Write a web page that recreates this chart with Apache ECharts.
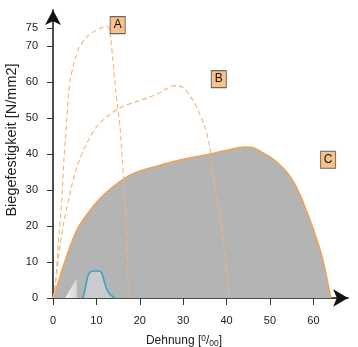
<!DOCTYPE html>
<html>
<head>
<meta charset="utf-8">
<script src="https://cdn.jsdelivr.net/npm/echarts@6/dist/echarts.min.js"></script>
<style>html,body{margin:0;padding:0;background:#fff}#c{width:358px;height:347px}</style>
</head>
<body>
<div id="c"></div>
<script>
// ---- data ----
var xTicks = [0, 10, 20, 30, 40, 50, 60];
var yTicks = [0, 10, 20, 30, 40, 50, 60, 70, 75];
var curveA = [[0,0],[0.45,3],[0.85,8.6],[1.4,18],[2.0,27],[2.6,40],[3.2,50],[3.9,60],[5,66],[6.2,70],[8,72.8],[9.7,74.2],[11,75],[12.5,75.5],[13.1,74],[13.8,66],[14.5,57],[15.4,48],[16,38],[16.6,27],[17.1,14],[17.4,0]];
var curveB = [[0,0],[0.5,3],[1.2,10.5],[2.3,19.7],[3.9,29],[5.5,36.4],[7.8,43],[10,47.5],[12.4,50.3],[15.4,52.8],[19,54.5],[22.3,55.8],[25,57.3],[26.9,58.6],[28.5,59],[30,58.4],[32.2,55],[35,47.5],[36.1,42],[36.8,34],[37.9,26],[38.9,19],[40.7,0]];
var curveC = [[0,0],[1,3.5],[2,7.5],[3,11],[4,14.5],[5,17.5],[6,20],[8,23.5],[10,26.5],[12,29],[15,32],[17.5,34],[20,35.3],[25,37],[30,38.5],[35,39.7],[40,41],[44,41.9],[46,41.8],[48,40.6],[50,39.2],[52,37.3],[54,34.8],[56,31],[58,25.5],[60,19],[62,11.5],[64,0]];
var curveBlue = [[6.9,0],[7.5,3],[8,6],[8.6,7.2],[9.5,7.5],[10.5,7.5],[11.2,7],[11.6,5.5],[12.2,3],[13,1.2],[14.3,0]];
var wedge = [[2.8,0],[5.5,5.5],[5.5,0]];
var labelNames = ['A', 'B', 'C'];
var labelPts = [[14.9,75.8],[38.2,60.8],[63.4,38.4]];

var font = 'Liberation Sans, Arial, Helvetica, sans-serif';
var chart = echarts.init(document.getElementById('c'), null, {renderer: 'canvas'});
chart.setOption({
  animation: false,
  backgroundColor: '#fff',
  grid: {left: 53, top: 10, height: 288, width: 295.1, containLabel: false, outerBoundsMode: 'none'},
  xAxis: {
    type: 'value', min: 0, max: 68,
    name: '{a|Dehnung [}{s|0}{a|/}{b|00}{a|]}',
    nameLocation: 'middle', nameGap: 36, nameMoveOverlap: false,
    nameTextStyle: {fontFamily: font, fontSize: 12, color: '#222', padding: [0, 33, 0, 0],
      rich: {
        a: {fontFamily: font, fontSize: 12, color: '#222', lineHeight: 14, verticalAlign: 'middle'},
        s: {fontFamily: font, fontSize: 8.5, color: '#222', lineHeight: 14, verticalAlign: 'top'},
        b: {fontFamily: font, fontSize: 8.5, color: '#222', lineHeight: 14, verticalAlign: 'bottom'}
      }},
    axisLine: {show: true, symbol: ['none', 'arrow'], symbolSize: [13, 15], lineStyle: {color: '#111', width: 1.5}},
    axisTick: {show: true, length: 7, customValues: xTicks, lineStyle: {color: '#333'}},
    axisLabel: {customValues: xTicks, margin: 17, fontFamily: font, fontSize: 11, color: '#222'},
    splitLine: {show: false}
  },
  yAxis: {
    type: 'value', min: 0, max: 80,
    name: 'Biegefestigkeit [N/mm2]',
    nameLocation: 'middle', nameGap: 34, nameMoveOverlap: false,
    nameTextStyle: {fontFamily: font, fontSize: 14.5, color: '#222', padding: [0, 0, 0, 28]},
    axisLine: {show: true, symbol: ['none', 'arrow'], symbolSize: [12, 15], lineStyle: {color: '#111', width: 1.5}},
    axisTick: {show: true, length: 6, customValues: yTicks, lineStyle: {color: '#333'}},
    axisLabel: {customValues: yTicks, margin: 15, fontFamily: font, fontSize: 11, color: '#222'},
    splitLine: {show: false}
  },
  series: [
    {type: 'line', data: curveC, smooth: 0.3, symbol: 'none', z: 2,
     lineStyle: {color: '#f0a256', width: 1.6}, areaStyle: {color: '#b4b4b4', opacity: 1}},
    {type: 'line', data: wedge, symbol: 'none', z: 3,
     lineStyle: {width: 0},
     areaStyle: {opacity: 1, color: new echarts.graphic.LinearGradient(0, 0, 1, 0, [{offset: 0, color: '#f4f4f4'}, {offset: 1, color: '#d4d4d4'}])}},
    {type: 'line', data: curveBlue, smooth: 0.3, symbol: 'none', z: 4,
     lineStyle: {color: '#3aa3c2', width: 1.6}, areaStyle: {color: '#cbcbcb', opacity: 1}},
    {type: 'line', data: curveA, smooth: 0.3, symbol: 'none', z: 5,
     lineStyle: {color: '#f3b47a', width: 1.1, type: [5, 3]}},
    {type: 'line', data: curveB, smooth: 0.3, symbol: 'none', z: 5,
     lineStyle: {color: '#f3b47a', width: 1.1, type: [5, 3]}},
    {type: 'scatter', data: labelPts, symbol: 'rect', symbolSize: [15, 17], z: 6,
     itemStyle: {color: '#f8c28c', borderColor: '#666', borderWidth: 1, opacity: 1},
     label: {show: true, position: 'inside', fontFamily: font, fontSize: 12, color: '#111',
             formatter: function (p) { return labelNames[p.dataIndex]; }}}
  ]
});
</script>
</body>
</html>
